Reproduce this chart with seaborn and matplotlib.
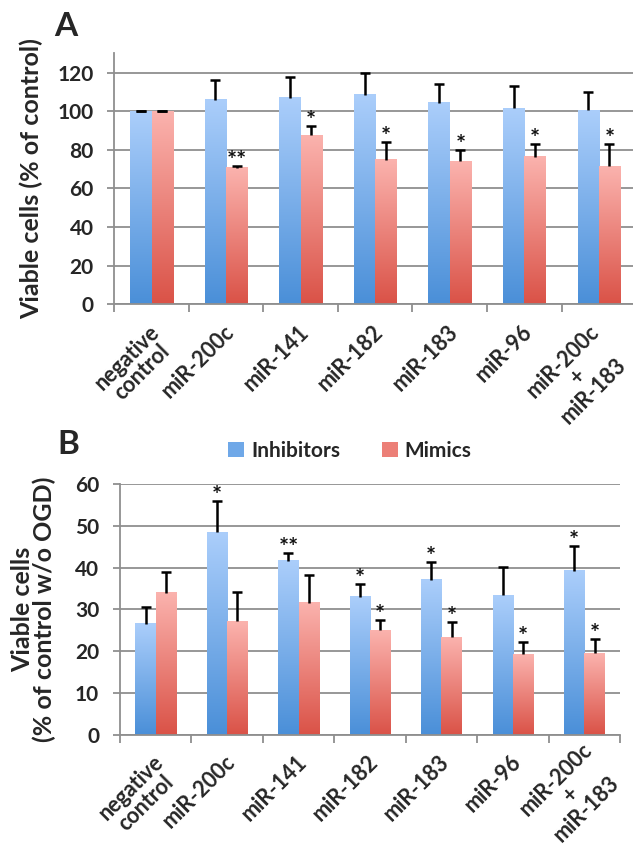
import numpy as np
import pandas as pd
import matplotlib
matplotlib.use("Agg")
import matplotlib.pyplot as plt
from matplotlib.colors import LinearSegmentedColormap
from matplotlib.patches import Patch
import seaborn as sns

# ---------------- data ----------------
categories = ["negative\ncontrol", "miR-200c", "miR-141", "miR-182", "miR-183",
              "miR-96", "miR-200c\n+\nmiR-183"]
groups = ["Inhibitors", "Mimics"]

inhib_A = [100, 106, 107, 108.5, 104.5, 101.5, 100.5]
inhib_A_err = [0, 10, 11, 11.5, 9.5, 11.5, 9.5]
mimic_A = [100, 70.5, 87.5, 75, 74, 76.5, 71.5]
mimic_A_err = [0, 1, 5, 9, 6, 6.5, 11.5]
inhib_A_star = ["", "", "", "", "", "", ""]
mimic_A_star = ["", "**", "*", "*", "*", "*", "*"]

inhib_B = [26.6, 48.5, 41.7, 33.0, 37.1, 33.4, 39.3]
inhib_B_err = [3.9, 7.5, 1.9, 3.0, 4.2, 6.7, 5.9]
mimic_B = [34.0, 27.2, 31.6, 25.0, 23.4, 19.3, 19.5]
mimic_B_err = [4.9, 7.1, 6.6, 2.5, 3.5, 3.0, 3.5]
inhib_B_star = ["", "*", "**", "*", "*", "", "*"]
mimic_B_star = ["", "", "", "*", "*", "*", "*"]

yticks_A = [0, 20, 40, 60, 80, 100, 120]
yticks_B = [0, 10, 20, 30, 40, 50, 60]

# ---------------- style ----------------
sns.set_theme(style="white")
plt.rcParams["font.family"] = ["Lato", "DejaVu Sans"]

BLUE_TOP, BLUE_BOT = "#abcefb", "#4a8fd8"
RED_TOP, RED_BOT = "#fbb3ae", "#da5247"
GRID = "#8f8f8f"
TICK_FS = 15
XLAB_FS = 15.5

cmaps = [LinearSegmentedColormap.from_list("b", [BLUE_BOT, BLUE_TOP]),
         LinearSegmentedColormap.from_list("r", [RED_BOT, RED_TOP])]

fig = plt.figure(figsize=(6.33, 8.49), dpi=100)
axA = fig.add_axes([0.1806, 0.6416, 0.8242, 0.2955])
axB = fig.add_axes([0.1896, 0.1343, 0.790, 0.2956])
renderer = fig.canvas.get_renderer()
FIG_W, FIG_H = fig.bbox.width, fig.bbox.height


def text_width_pt(s):
    t = fig.text(0, 0, s, fontsize=XLAB_FS, fontweight="bold")
    w = t.get_window_extent(renderer).width * 72.0 / fig.dpi
    t.remove()
    return w


def category_labels(ax, pad_pt=12.0, margin_px=3):
    c = s = np.sqrt(0.5)
    lh = XLAB_FS * 0.98
    for i, lab in enumerate(categories):
        lines = lab.split("\n")
        widths = [text_width_pt(l) for l in lines]
        W = max(widths)
        anns = []
        for k, line in enumerate(lines):
            ox = -2.0 - (W / 2) * c + (k + 0.5) * lh * s
            oy = -pad_pt - (W / 2) * s - (k + 0.5) * lh * c
            a = ax.annotate(line, xy=(i, 0),
                            xycoords=("data", "axes fraction"),
                            xytext=(ox, oy), textcoords="offset points",
                            rotation=45, rotation_mode="anchor", ha="center",
                            va="center", fontsize=XLAB_FS, fontweight="bold",
                            annotation_clip=False)
            anns.append(a)
        # keep the whole label inside the picture
        boxes = [a.get_window_extent(renderer) for a in anns]
        right = max(b.x1 for b in boxes)
        bottom = min(b.y0 for b in boxes)
        dx = min(0.0, (FIG_W - margin_px) - right) * 72 / fig.dpi
        dy = max(0.0, margin_px - bottom) * 72 / fig.dpi
        if dx or dy:
            for a in anns:
                ox, oy = a.xyann
                a.xyann = (ox + dx, oy + dy)


def panel(ax, inh, inh_err, mim, mim_err, inh_star, mim_star, ylim, yticks):
    df = pd.DataFrame({
        "cat": categories * 2,
        "grp": [groups[0]] * len(categories) + [groups[1]] * len(categories),
        "val": inh + mim,
    })
    sns.barplot(data=df, x="cat", y="val", hue="grp", order=categories,
                hue_order=groups, palette=[BLUE_BOT, RED_BOT], width=0.57,
                errorbar=None, legend=False, saturation=1, ax=ax, zorder=2)
    n = len(categories)
    bars = list(ax.patches)
    vals = [inh, mim]
    errs = [inh_err, mim_err]
    stars = [inh_star, mim_star]
    grad = np.linspace(0, 1, 256).reshape(-1, 1)
    for gi in range(2):
        for ci in range(n):
            p = bars[gi * n + ci]
            x0, w, h = p.get_x(), p.get_width(), p.get_height()
            p.set_facecolor("none")
            p.set_edgecolor("none")
            ax.imshow(grad, extent=[x0, x0 + w, 0, h], origin="lower",
                      aspect="auto", cmap=cmaps[gi], zorder=2,
                      interpolation="bilinear")
            xc = x0 + w / 2
            v, e = vals[gi][ci], errs[gi][ci]
            eb = ax.errorbar([xc], [v], yerr=[[0], [e]], fmt="none",
                             ecolor="black", elinewidth=1.8, capsize=3.8,
                             capthick=1.8, zorder=4)
            caps = eb.lines[1]
            if len(caps) == 2 and e > 0:
                caps[0].set_visible(False)
            if stars[gi][ci]:
                ax.annotate(stars[gi][ci], (xc, v + e), xytext=(0, -5),
                            textcoords="offset points", ha="center", va="bottom",
                            fontsize=17, fontweight="bold", color="#111111")
    ax.set_xlim(-0.5, n - 0.5)
    ax.set_ylim(*ylim)
    ax.set_yticks(yticks)
    ax.set_yticklabels([str(t) for t in yticks], fontsize=TICK_FS,
                       fontweight="bold")
    ax.set_xticks(range(n))
    ax.set_xticklabels([""] * n)
    ax.set_xticks(np.arange(-0.5, n, 1), minor=True)
    ax.tick_params(axis="x", which="major", length=0)
    ax.tick_params(axis="x", which="minor", length=6, width=1.3, color=GRID,
                   direction="out", bottom=True)
    ax.tick_params(axis="y", which="major", length=5, width=1.3, color=GRID,
                   direction="out", left=True, pad=10)
    ax.yaxis.grid(True, color=GRID, lw=1.3)
    ax.xaxis.grid(False)
    ax.set_axisbelow(True)
    for s in ["top", "right"]:
        ax.spines[s].set_visible(False)
    for s in ["left", "bottom"]:
        ax.spines[s].set_color(GRID)
        ax.spines[s].set_linewidth(1.3)
    ax.set_xlabel("")
    category_labels(ax)


panel(axA, inhib_A, inhib_A_err, mimic_A, mimic_A_err, inhib_A_star,
      mimic_A_star, (0, 130), yticks_A)
panel(axB, inhib_B, inhib_B_err, mimic_B, mimic_B_err, inhib_B_star,
      mimic_B_star, (0, 60), yticks_B)

axA.set_ylabel("Viable cells (% of control)", fontsize=18, fontweight="bold")
axA.yaxis.set_label_coords(-0.137, 0.5)
axB.set_ylabel("Viable cells\n(% of control w/o OGD)", fontsize=18,
               fontweight="bold", linespacing=0.9)
axB.yaxis.set_label_coords(-0.128, 0.5)

fig.text(66 / 633, 1 - 26 / 849, "A", fontsize=24, fontweight="bold",
         ha="center", va="center")
fig.text(68 / 633, 1 - 444 / 849, "B", fontsize=24, fontweight="bold",
         ha="center", va="center")

handles = [Patch(facecolor="#6fa8e8", edgecolor="none"),
           Patch(facecolor="#ec7f77", edgecolor="none")]
leg = fig.legend(handles, groups, loc="center",
                 bbox_to_anchor=(350 / 633, 1 - 451 / 849), ncol=2,
                 frameon=False, fontsize=15, handlelength=0.75,
                 handleheight=0.75, handletextpad=0.35, columnspacing=2.0)
for t in leg.get_texts():
    t.set_fontweight("bold")

fig.savefig("out.png", dpi=100)
